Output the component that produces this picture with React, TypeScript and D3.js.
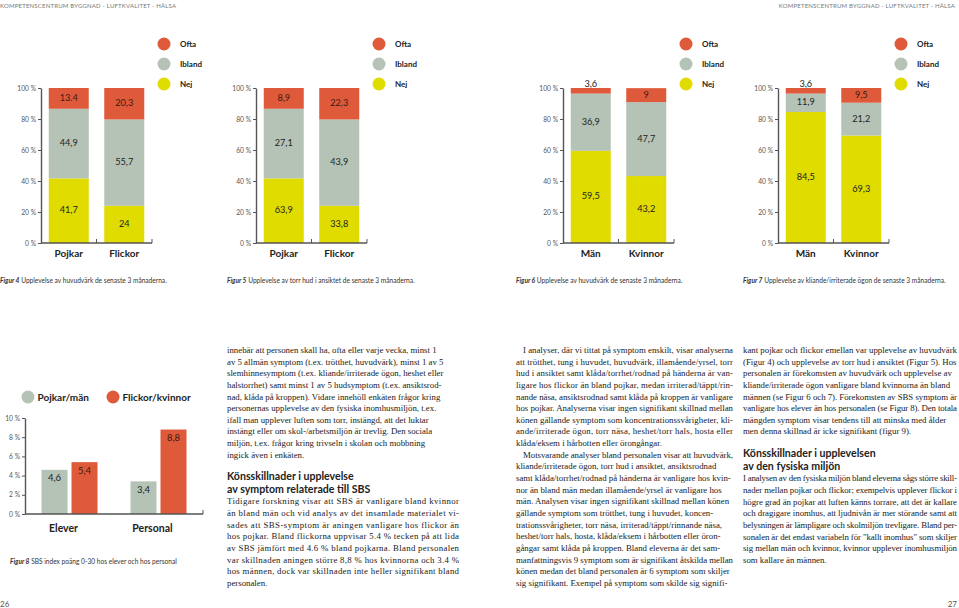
import React, { useEffect, useRef } from 'react';
import * as d3 from 'd3';

// stacked bars, bottom to top
const stackKeys = ['Nej', 'Ibland', 'Ofta'];
const legendKeys = ['Ofta', 'Ibland', 'Nej'];
const pctTicks = [0, 20, 40, 60, 80, 100];

const fig4Groups = ['Pojkar', 'Flickor'];
const fig4Nej = [41.7, 24];
const fig4Ibland = [44.9, 55.7];
const fig4Ofta = [13.4, 20.3];
const fig4NejLabels = ['41,7', '24'];
const fig4IblandLabels = ['44,9', '55,7'];
const fig4OftaLabels = ['13.4', '20,3'];

// bars in the original print are drawn with the same heights as figur 4
const fig5Groups = ['Pojkar', 'Flickor'];
const fig5Nej = [41.7, 24];
const fig5Ibland = [44.9, 55.7];
const fig5Ofta = [13.4, 20.3];
const fig5NejLabels = ['63,9', '33,8'];
const fig5IblandLabels = ['27,1', '43,9'];
const fig5OftaLabels = ['8,9', '22,3'];

const fig6Groups = ['Män', 'Kvinnor'];
const fig6Nej = [59.5, 43.2];
const fig6Ibland = [36.9, 47.7];
const fig6Ofta = [3.6, 9];
const fig6NejLabels = ['59,5', '43,2'];
const fig6IblandLabels = ['36,9', '47,7'];
const fig6OftaLabels = ['3,6', '9'];

const fig7Groups = ['Män', 'Kvinnor'];
const fig7Nej = [84.5, 69.3];
const fig7Ibland = [11.9, 21.2];
const fig7Ofta = [3.6, 9.5];
const fig7NejLabels = ['84,5', '69,3'];
const fig7IblandLabels = ['11,9', '21,2'];
const fig7OftaLabels = ['3,6', '9,5'];

const fig8Groups = ['Elever', 'Personal'];
const fig8Series = ['Pojkar/män', 'Flickor/kvinnor'];
const fig8Men = [4.6, 3.4];
const fig8Women = [5.4, 8.8];
const fig8MenLabels = ['4,6', '3,4'];
const fig8WomenLabels = ['5,4', '8,8'];
const fig8Ticks = [0, 2, 4, 6, 8, 10];

const captions = [
  ['Figur 4', ' Upplevelse av huvudvärk de senaste 3 månaderna.'],
  ['Figur 5', ' Upplevelse av torr hud i ansiktet de senaste 3 månaderna.'],
  ['Figur 6', ' Upplevelse av huvudvärk de senaste 3 månaderna.'],
  ['Figur 7', ' Upplevelse av kliande/irriterade ögon de senaste 3 månaderna.'],
];
const caption8 = ['Figur 8', ' SBS index poäng 0-30 hos elever och hos personal'];
const headerText = 'KOMPETENSCENTRUM BYGGNAD - LUFTKVALITET - HÄLSA';

const col1a = [
  'innebär att personen skall ha, ofta eller varje vecka, minst 1',
  'av 5 allmän symptom (t.ex. trötthet, huvudvärk), minst 1 av 5',
  'slemhinnesymptom (t.ex. kliande/irriterade ögon, heshet eller',
  'halstorrhet) samt minst 1 av 5 hudsymptom (t.ex. ansiktsrod-',
  'nad, klåda på kroppen). Vidare innehöll enkäten frågor kring',
  'personernas upplevelse av den fysiska inomhusmiljön, t.ex.',
  'ifall man upplever luften som torr, instängd, att det luktar',
  'instängt eller om skol-/arbetsmiljön är trevlig. Den sociala',
  'miljön, t.ex. frågor kring trivseln i skolan och mobbning',
  'ingick även i enkäten.',
];
const col1Head = ['Könsskillnader i upplevelse', 'av symptom relaterade till SBS'];
const col1b = [
  'Tidigare forskning visar att SBS är vanligare bland kvinnor',
  'än bland män och vid analys av det insamlade materialet vi-',
  'sades att SBS-symptom är aningen vanligare hos flickor än',
  'hos pojkar. Bland flickorna uppvisar 5.4 % tecken på att lida',
  'av SBS jämfört med 4.6 % bland pojkarna. Bland personalen',
  'var skillnaden aningen större 8,8 % hos kvinnorna och 3.4 %',
  'hos männen, dock var skillnaden inte heller signifikant bland',
  'personalen.',
];
const col2a = [
  'I analyser, där vi tittat på symptom enskilt, visar analyserna',
  'att trötthet, tung i huvudet, huvudvärk, illamående/yrsel, torr',
  'hud i ansiktet samt klåda/torrhet/rodnad på händerna är van-',
  'ligare hos flickor än bland pojkar, medan irriterad/täppt/rin-',
  'nande näsa, ansiktsrodnad samt klåda på kroppen är vanligare',
  'hos pojkar. Analyserna visar ingen signifikant skillnad mellan',
  'könen gällande symptom som koncentrationssvårigheter, kli-',
  'ande/irriterade ögon, torr näsa, heshet/torr hals, hosta eller',
  'klåda/eksem i hårbotten eller örongångar.',
];
const col2b = [
  'Motsvarande analyser bland personalen visar att huvudvärk,',
  'kliande/irriterade ögon, torr hud i ansiktet, ansiktsrodnad',
  'samt klåda/torrhet/rodnad på händerna är vanligare hos kvin-',
  'nor än bland män medan illamående/yrsel är vanligare hos',
  'män. Analysen visar ingen signifikant skillnad mellan könen',
  'gällande symptom som trötthet, tung i huvudet, koncen-',
  'trationssvårigheter, torr näsa, irriterad/täppt/rinnande näsa,',
  'heshet/torr hals, hosta, klåda/eksem i hårbotten eller öron-',
  'gångar samt klåda på kroppen. Bland eleverna är det sam-',
  'manfattningsvis 9 symptom som är signifikant åtskilda mellan',
  'könen medan det bland personalen är 6 symptom som skiljer',
  'sig signifikant. Exempel på symptom som skilde sig signifi-',
];
const col3a = [
  'kant pojkar och flickor emellan var upplevelse av huvudvärk',
  '(Figur 4) och upplevelse av torr hud i ansiktet (Figur 5). Hos',
  'personalen är förekomsten av huvudvärk och upplevelse av',
  'kliande/irriterade ögon vanligare bland kvinnorna än bland',
  'männen (se Figur 6 och 7). Förekomsten av SBS symptom är',
  'vanligare hos elever än hos personalen (se Figur 8). Den totala',
  'mängden symptom visar tendens till att minska med ålder',
  'men denna skillnad är icke signifikant (figur 9).',
];
const col3Head = ['Könsskillnader i upplevelsen', 'av den fysiska miljön'];
const col3b = [
  'I analysen av den fysiska miljön bland eleverna sågs större skill-',
  'nader mellan pojkar och flickor; exempelvis upplever flickor i',
  'högre grad än pojkar att luften känns torrare, att det är kallare',
  'och dragigare inomhus, att ljudnivån är mer störande samt att',
  'belysningen är lämpligare och skolmiljön trevligare. Bland per-',
  'sonalen är det endast variabeln för "kallt inomhus" som skiljer',
  'sig mellan män och kvinnor, kvinnor upplever inomhusmiljön',
  'som kallare än männen.',
];

const App: React.FC = () => {
  const svgRef = useRef<SVGSVGElement>(null);

  useEffect(() => {
    if (!svgRef.current) return;
    const svg = d3.select(svgRef.current);
    svg.selectAll('*').remove();

    const sans = 'Lato, "Open Sans", sans-serif';
    const serif = '"Liberation Serif", "DejaVu Serif", serif';
    const colors: Record<string, string> = { Ofta: '#df5a3a', Ibland: '#b4c3b6', Nej: '#e0dc00' };
    const axisColor = '#555';
    const lh = 11.65;

    // running header + page numbers
    svg.append('text').attr('x', 0).attr('y', 5).attr('dominant-baseline', 'central')
      .attr('font-family', sans).attr('font-size', 6).attr('fill', '#777').attr('letter-spacing', 0.2)
      .text(headerText);
    svg.append('text').attr('x', 955).attr('y', 5).attr('dominant-baseline', 'central').attr('text-anchor', 'end')
      .attr('font-family', sans).attr('font-size', 6).attr('fill', '#777').attr('letter-spacing', 0.2)
      .text(headerText);
    svg.append('text').attr('x', 0).attr('y', 604).attr('dominant-baseline', 'central')
      .attr('font-family', sans).attr('font-size', 8).attr('fill', '#555').text('26');
    svg.append('text').attr('x', 957).attr('y', 604).attr('dominant-baseline', 'central').attr('text-anchor', 'end')
      .attr('font-family', sans).attr('font-size', 8).attr('fill', '#555').text('27');

    const addCaption = (x: number, yy: number, parts: string[]) => {
      const t = svg.append('text').attr('x', x).attr('y', yy).attr('dominant-baseline', 'central')
        .attr('font-family', sans).attr('font-size', 6.6).attr('fill', '#333');
      t.append('tspan').attr('font-weight', 700).attr('font-style', 'italic').text(parts[0]);
      t.append('tspan').text(parts[1]);
    };

    // ---- stacked bar figures 4-7
    const figs = [
      { ax: 41, cap: 0, groups: fig4Groups, vals: [fig4Nej, fig4Ibland, fig4Ofta], labels: [fig4NejLabels, fig4IblandLabels, fig4OftaLabels] },
      { ax: 256, cap: 227, groups: fig5Groups, vals: [fig5Nej, fig5Ibland, fig5Ofta], labels: [fig5NejLabels, fig5IblandLabels, fig5OftaLabels] },
      { ax: 563, cap: 516, groups: fig6Groups, vals: [fig6Nej, fig6Ibland, fig6Ofta], labels: [fig6NejLabels, fig6IblandLabels, fig6OftaLabels] },
      { ax: 778, cap: 743, groups: fig7Groups, vals: [fig7Nej, fig7Ibland, fig7Ofta], labels: [fig7NejLabels, fig7IblandLabels, fig7OftaLabels] },
    ];
    const y = d3.scaleLinear().domain([0, 100]).range([243, 88]);

    figs.forEach((f, fi) => {
      const g = svg.append('g');
      const x = d3.scaleBand<string>().domain(f.groups).range([f.ax, f.ax + 111]);
      const rows = f.groups.map((grp, i) => {
        const r: Record<string, number> = {};
        stackKeys.forEach((k, ki) => { r[k] = f.vals[ki][i]; });
        return r;
      });
      const series = d3.stack<Record<string, number>>().keys(stackKeys)(rows);
      const barW = 40;

      series.forEach((s, si) => {
        s.forEach((d, i) => {
          const cx = (x(f.groups[i]) ?? 0) + x.bandwidth() / 2;
          g.append('rect')
            .attr('x', cx - barW / 2).attr('width', barW)
            .attr('y', y(d[1])).attr('height', y(d[0]) - y(d[1]))
            .attr('fill', colors[s.key]);
          const v = d[1] - d[0];
          const ly = v < 5 ? y(d[1]) - 5 : (y(d[0]) + y(d[1])) / 2 - 1;
          g.append('text').attr('x', cx).attr('y', ly)
            .attr('text-anchor', 'middle').attr('dominant-baseline', 'central')
            .attr('font-family', sans).attr('font-size', 9.2)
            .attr('fill', s.key === 'Ofta' && v >= 5 ? '#3a1a10' : '#222')
            .text(f.labels[si][i]);
        });
      });

      // y axis
      const yAxis = g.append('g').attr('transform', `translate(${f.ax},0)`)
        .call(d3.axisLeft(y).tickValues(pctTicks).tickSize(3).tickSizeOuter(0).tickPadding(2)
          .tickFormat(d => `${d} %`));
      yAxis.select('.domain').attr('stroke', axisColor).attr('stroke-width', 1.4);
      yAxis.selectAll('.tick line').attr('stroke', axisColor).attr('stroke-width', 1);
      yAxis.selectAll('.tick text').attr('font-family', sans).attr('font-size', 6.7).attr('fill', '#555');

      // baseline with separators
      g.append('line').attr('x1', f.ax).attr('x2', f.ax + 111).attr('y1', y(0)).attr('y2', y(0))
        .attr('stroke', axisColor).attr('stroke-width', 1.4);
      f.groups.forEach(grp => {
        const xe = (x(grp) ?? 0) + x.bandwidth();
        g.append('line').attr('x1', xe).attr('x2', xe).attr('y1', y(0)).attr('y2', y(0) - 4)
          .attr('stroke', axisColor).attr('stroke-width', 1);
        g.append('text').attr('x', (x(grp) ?? 0) + x.bandwidth() / 2).attr('y', 253)
          .attr('text-anchor', 'middle').attr('dominant-baseline', 'central')
          .attr('font-family', sans).attr('font-weight', 700).attr('font-size', 10).attr('fill', '#222')
          .text(grp);
      });

      // legend
      legendKeys.forEach((k, i) => {
        g.append('circle').attr('cx', f.ax + 123).attr('cy', 44 + i * 20).attr('r', 6.5).attr('fill', colors[k]);
        g.append('text').attr('x', f.ax + 139).attr('y', 44 + i * 20).attr('dominant-baseline', 'central')
          .attr('font-family', sans).attr('font-weight', 700).attr('font-size', 8).attr('fill', '#222').text(k);
      });

      addCaption(f.cap, 280, captions[fi]);
    });

    // ---- figure 8 grouped bars
    const g8 = svg.append('g');
    const y8 = d3.scaleLinear().domain([0, 10]).range([514, 418]);
    const x8 = d3.scaleBand<string>().domain(fig8Groups).range([25, 203]);
    const xs = d3.scaleBand<string>().domain(fig8Series).range([-28, 28]).paddingInner(4 / 30);
    const c8 = [colors.Ibland, colors.Ofta];
    const v8 = [fig8Men, fig8Women];
    const l8 = [fig8MenLabels, fig8WomenLabels];

    fig8Series.forEach((s, si) => {
      fig8Groups.forEach((grp, gi) => {
        const cx = (x8(grp) ?? 0) + x8.bandwidth() / 2;
        const bx = cx + (xs(s) ?? 0);
        g8.append('rect').attr('x', bx).attr('width', xs.bandwidth())
          .attr('y', y8(v8[si][gi])).attr('height', y8(0) - y8(v8[si][gi]))
          .attr('fill', c8[si]);
        g8.append('text').attr('x', bx + xs.bandwidth() / 2).attr('y', y8(v8[si][gi]) + 8)
          .attr('text-anchor', 'middle').attr('dominant-baseline', 'central')
          .attr('font-family', sans).attr('font-size', 9.5)
          .attr('fill', si === 1 ? '#3a1a10' : '#222')
          .text(l8[si][gi]);
      });
    });

    const yAxis8 = g8.append('g').attr('transform', 'translate(25,0)')
      .call(d3.axisLeft(y8).tickValues(fig8Ticks).tickSize(3).tickSizeOuter(0).tickPadding(2)
        .tickFormat(d => `${d} %`));
    yAxis8.select('.domain').attr('stroke', axisColor).attr('stroke-width', 1.4);
    yAxis8.selectAll('.tick line').attr('stroke', axisColor).attr('stroke-width', 1);
    yAxis8.selectAll('.tick text').attr('font-family', sans).attr('font-size', 6.7).attr('fill', '#555');
    g8.append('line').attr('x1', 25).attr('x2', 203).attr('y1', y8(0)).attr('y2', y8(0))
      .attr('stroke', axisColor).attr('stroke-width', 1.4);
    g8.append('line').attr('x1', 203).attr('x2', 203).attr('y1', y8(0)).attr('y2', y8(0) - 4)
      .attr('stroke', axisColor).attr('stroke-width', 1);
    fig8Groups.forEach(grp => {
      g8.append('text').attr('x', (x8(grp) ?? 0) + x8.bandwidth() / 2 - 6).attr('y', 528)
        .attr('text-anchor', 'middle').attr('dominant-baseline', 'central')
        .attr('font-family', sans).attr('font-weight', 700).attr('font-size', 10.5).attr('fill', '#222')
        .text(grp);
    });
    const leg8x = [28, 113];
    fig8Series.forEach((s, si) => {
      g8.append('circle').attr('cx', leg8x[si]).attr('cy', 397).attr('r', 6.5).attr('fill', c8[si]);
      g8.append('text').attr('x', leg8x[si] + 9.5).attr('y', 397).attr('dominant-baseline', 'central')
        .attr('font-family', sans).attr('font-weight', 700).attr('font-size', 10).attr('fill', '#222').text(s);
    });
    addCaption(10, 561, caption8);

    // ---- body text (justified lines stretched, ragged lines squeezed if they overrun)
    const block = (lines: string[], x: number, top: number, width: number, justify: boolean, indent = 0) => {
      lines.forEach((t, i) => {
        const ind = i === 0 ? indent : 0;
        const tx = svg.append('text').attr('x', x + ind).attr('y', top + i * lh + 2.9)
          .attr('font-family', serif).attr('font-size', 8.8).attr('fill', '#222').text(t);
        const natural = (tx.node() as SVGTextElement).getComputedTextLength();
        if ((justify && i < lines.length - 1) || natural > width - ind) {
          tx.attr('textLength', width - ind).attr('lengthAdjust', 'spacing');
        }
      });
    };
    const heading = (lines: string[], x: number, top: number) => {
      lines.forEach((t, i) => {
        svg.append('text').attr('x', x).attr('y', top + i * 13.2).attr('dominant-baseline', 'central')
          .attr('font-family', sans).attr('font-weight', 700).attr('font-size', 10.6).attr('fill', '#222').text(t);
      });
    };

    block(col1a, 227, 350, 232, false);
    heading(col1Head, 227, 476);
    block(col1b, 227, 501.5, 232, true);

    block(col2a, 516, 350, 217, true, 7);
    block(col2b, 516, 350 + col2a.length * lh, 217, false, 7);

    block(col3a, 743, 350, 214, false);
    heading(col3Head, 743, 453);
    block(col3b, 743, 478.5, 214, true);
  }, []);

  return (
    <div style={{ position: 'absolute', left: 0, top: 0, width: 959, height: 608, background: '#fff' }}>
      <svg ref={svgRef} width={959} height={608} viewBox="0 0 959 608" />
    </div>
  );
};

export default App;
